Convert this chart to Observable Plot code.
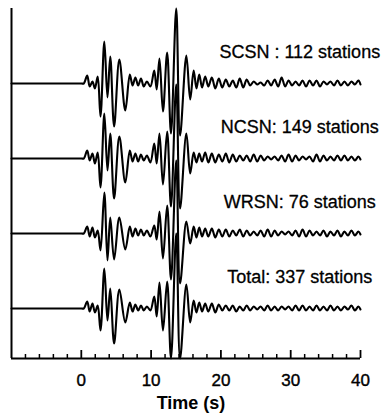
<!DOCTYPE html>
<html><head><meta charset="utf-8">
<script src="https://cdn.jsdelivr.net/npm/d3@7"></script>
<script src="https://cdn.jsdelivr.net/npm/@observablehq/plot@0.6"></script>
<style>body{margin:0;background:#fff} #chart svg{display:block}</style>
</head><body><div id="chart"></div>
<script>
const stations = ["SCSN : 112 stations", "NCSN: 149 stations", "WRSN: 76 stations", "Total: 337 stations"];
// times (s) of the waveform extrema
const times = [-10, 0, 0.35, 0.85, 1.2, 1.6, 1.95, 2.35, 2.75, 3.3, 3.75, 4.15, 4.7, 5.45, 6.3, 6.95, 7.35, 7.75, 8.15, 8.55, 8.95, 9.4, 9.9,
  10.45, 10.8, 11.2, 11.7, 12.3, 12.85, 13.6, 14.15, 15.05, 15.6, 16.1, 16.5, 16.9, 17.3, 17.75, 18.2,
  18.7, 19.2, 19.7, 20.2, 20.7, 21.2, 21.7, 22.2, 22.7, 23.2, 23.7, 24.2, 24.7, 25.2, 25.7, 26.2, 26.7, 27.2, 27.7, 28.2,
  28.7, 29.2, 29.7, 30.2, 30.7, 31.2, 31.7, 32.2, 32.7, 33.2, 33.7, 34.2, 34.7, 35.2, 35.7, 36.2, 36.7, 37.2, 37.7, 38.2,
  38.7, 39.2, 39.7, 40.0];
const scsn = [0, 0, 0, 8, -3, 2, -5, 7, -33, 42, -14, 27, -43, 24, -27, 9, -2, 6, -2, 5, -3, 2, -3,
  13, -6, 25, -28, 31, -50, 75, -52, 28, -16, 13, -5, 9, -4, 7, -3,
  6, -5, 5, -4, 4, -3, 3, -4, 5, -4, 4, -2, 2, -1, 1, -2, 3, -2, 4, -3,
  6, -3, 3, -2, 2, -2, 3, -3, 3, -2, 3, -3, 2, -1, 2, -2, 3, -2, 2, -2,
  2, -1, 3, -1];
const ncsn = [0, 0, 0, 8, -2, 5, -5, 6, -29, 45, -12, 25, -40, 22, -24, 8, -3, 5, -3, 4, -2, 3, -4,
  15, -5, 25, -26, 27, -48, 74, -50, 25, -15, 6, -4, 5, -3, 6, -4,
  5, -4, 4, -3, 5, -4, 4, -3, 3, -2, 3, -3, 4, -3, 3, -2, 2, -1, 2, -2,
  3, -3, 4, -3, 3, -2, 2, -1, 2, -3, 4, -3, 3, -2, 2, -2, 3, -2, 3, -2,
  2, -2, 2, -1];
const wrsn = [0, 0, 0, 7, -3, 6, -4, 3, -17, 41, -27, 16, -26, 16, -16, 7, -3, 5, -2, 4, -2, 3, -3,
  8, -6, 22, -25, 28, -46, 73, -50, 12, -10, 7, -4, 6, -3, 5, -3,
  5, -4, 4, -3, 4, -3, 3, -2, 4, -3, 3, -2, 2, -2, 3, -3, 4, -3, 3, -2,
  2, -1, 2, -2, 3, -3, 4, -3, 3, -2, 2, -2, 3, -3, 2, -2, 3, -3, 2, -2,
  3, -2, 2, -1];
const total = [0, 0, 0, 7, -3, 5, -4, 3, -22, 40, -12, 20, -35, 19, -14, 6, -3, 4, -2, 3, -2, 2, -2,
  12, -8, 26, -22, 27, -50, 75, -50, 24, -14, 8, -4, 6, -3, 5, -3,
  5, -4, 4, -2, 3, -2, 3, -3, 2, -2, 3, -2, 2, -1, 2, -2, 3, -2, 2, -2,
  2, -1, 2, -2, 3, -2, 3, -2, 2, -2, 3, -2, 2, -2, 3, -2, 2, -2, 2, -1,
  3, -2, 2, -1];
const majorTicks = [0, 10, 20, 30, 40];
const minorTicks = [-8, -6, -4, -2, 2, 4, 6, 8, 12, 14, 16, 18, 22, 24, 26, 28, 32, 34, 36, 38];

const series = [scsn, ncsn, wrsn, total];
const spacing = 75, bottomBase = 50;
const base = i => bottomBase + spacing * (series.length - 1 - i);
const rows = series.flatMap((vals, i) => times.map((t, k) => ({t, v: base(i) + vals[k], s: stations[i]})));
const labels = stations.map((name, i) => ({name, y: base(i) + 31}));
const font = "Liberation Sans, Arial, Helvetica, sans-serif";

const chart = Plot.plot({
  width: 383, height: 418,
  marginLeft: 11, marginRight: 23, marginTop: 8, marginBottom: 60,
  style: {fontFamily: font, fontSize: "16px", background: "white", color: "black"},
  x: {domain: [-10, 40], axis: null},
  y: {domain: [0, 350], axis: null},
  marks: [
    Plot.text(majorTicks, {x: d => d, y: () => 0, text: d => String(d), dy: 22, fontSize: 17, fill: "black", stroke: "black", strokeWidth: 0.4}),
    Plot.ruleX(minorTicks, {y1: 0, y2: 4, strokeWidth: 1.5}),
    Plot.ruleX(majorTicks, {y1: 0, y2: 8, strokeWidth: 1.8}),
    Plot.ruleX([-10], {strokeWidth: 2}),
    Plot.ruleY([0], {strokeWidth: 2}),
    Plot.line(rows, {x: "t", y: "v", z: "s", curve: "catmull-rom", stroke: "black", strokeWidth: 2.1}),
    Plot.text(labels, {x: () => 31.3, y: "y", text: "name", fontSize: 18, textAnchor: "middle", fill: "black", stroke: "black", strokeWidth: 0.3}),
    Plot.text(["Time (s)"], {frameAnchor: "bottom", dy: 50, dx: 5, fontSize: 18, fontWeight: "bold", fill: "black"})
  ]
});
document.getElementById("chart").append(chart);
</script>
</body></html>
